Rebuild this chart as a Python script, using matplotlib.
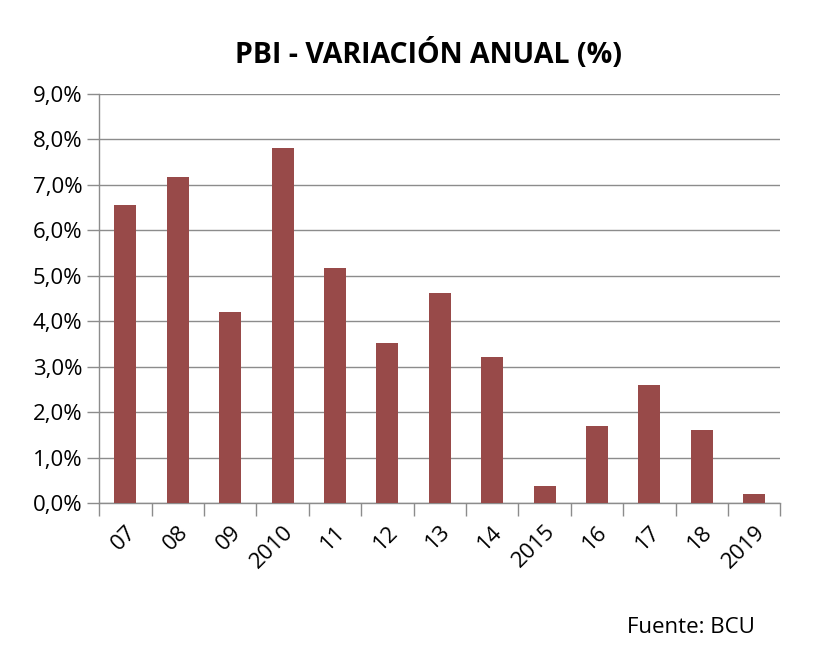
import numpy as np
import matplotlib.pyplot as plt
from matplotlib.ticker import FuncFormatter

years = ['07', '08', '09', '2010', '11', '12', '13', '14', '2015', '16', '17', '18', '2019']
growth = [6.55, 7.18, 4.2, 7.8, 5.16, 3.52, 4.63, 3.21, 0.37, 1.7, 2.6, 1.6, 0.2]

plt.rcParams['font.family'] = ['Open Sans', 'DejaVu Sans']

fig = plt.figure(figsize=(8.4, 6.56), dpi=100)
ax = fig.add_axes([0.118, 0.233, 0.811, 0.624])

x = np.arange(len(years))
ax.bar(x, growth, width=0.42, color='#984A49', zorder=3)

ax.set_ylim(0, 9)
ax.set_xlim(-0.5, len(years) - 0.5)
ax.set_yticks(np.arange(0, 10, 1))
ax.yaxis.set_major_formatter(FuncFormatter(lambda v, p: '{:.1f}%'.format(v).replace('.', ',')))
ax.grid(axis='y', color='#8c8c8c', linewidth=1, zorder=0)

# category labels centred on bars, tick marks between categories
ax.set_xticks(x)
ax.set_xticklabels(years, rotation=45, ha='right', rotation_mode='anchor')
ax.set_xticks(np.arange(-0.5, len(years), 1), minor=True)
ax.tick_params(axis='x', which='major', length=0, labelsize=16, pad=13)
ax.tick_params(axis='x', which='minor', length=9, color='#8c8c8c', width=1)
ax.tick_params(axis='y', length=9, color='#8c8c8c', width=1, labelsize=16, pad=3)

for s in ['top', 'right']:
    ax.spines[s].set_visible(False)
for s in ['left', 'bottom']:
    ax.spines[s].set_color('#8c8c8c')
    ax.spines[s].set_linewidth(1)

fig.text(0.51, 0.917, 'PBI - VARIACIÓN ANUAL (%)', ha='center', va='center',
         fontsize=20.5, fontweight='bold')
fig.text(0.899, 0.043, 'Fuente: BCU', ha='right', va='center', fontsize=16)

fig.savefig('out.png', dpi=100)
